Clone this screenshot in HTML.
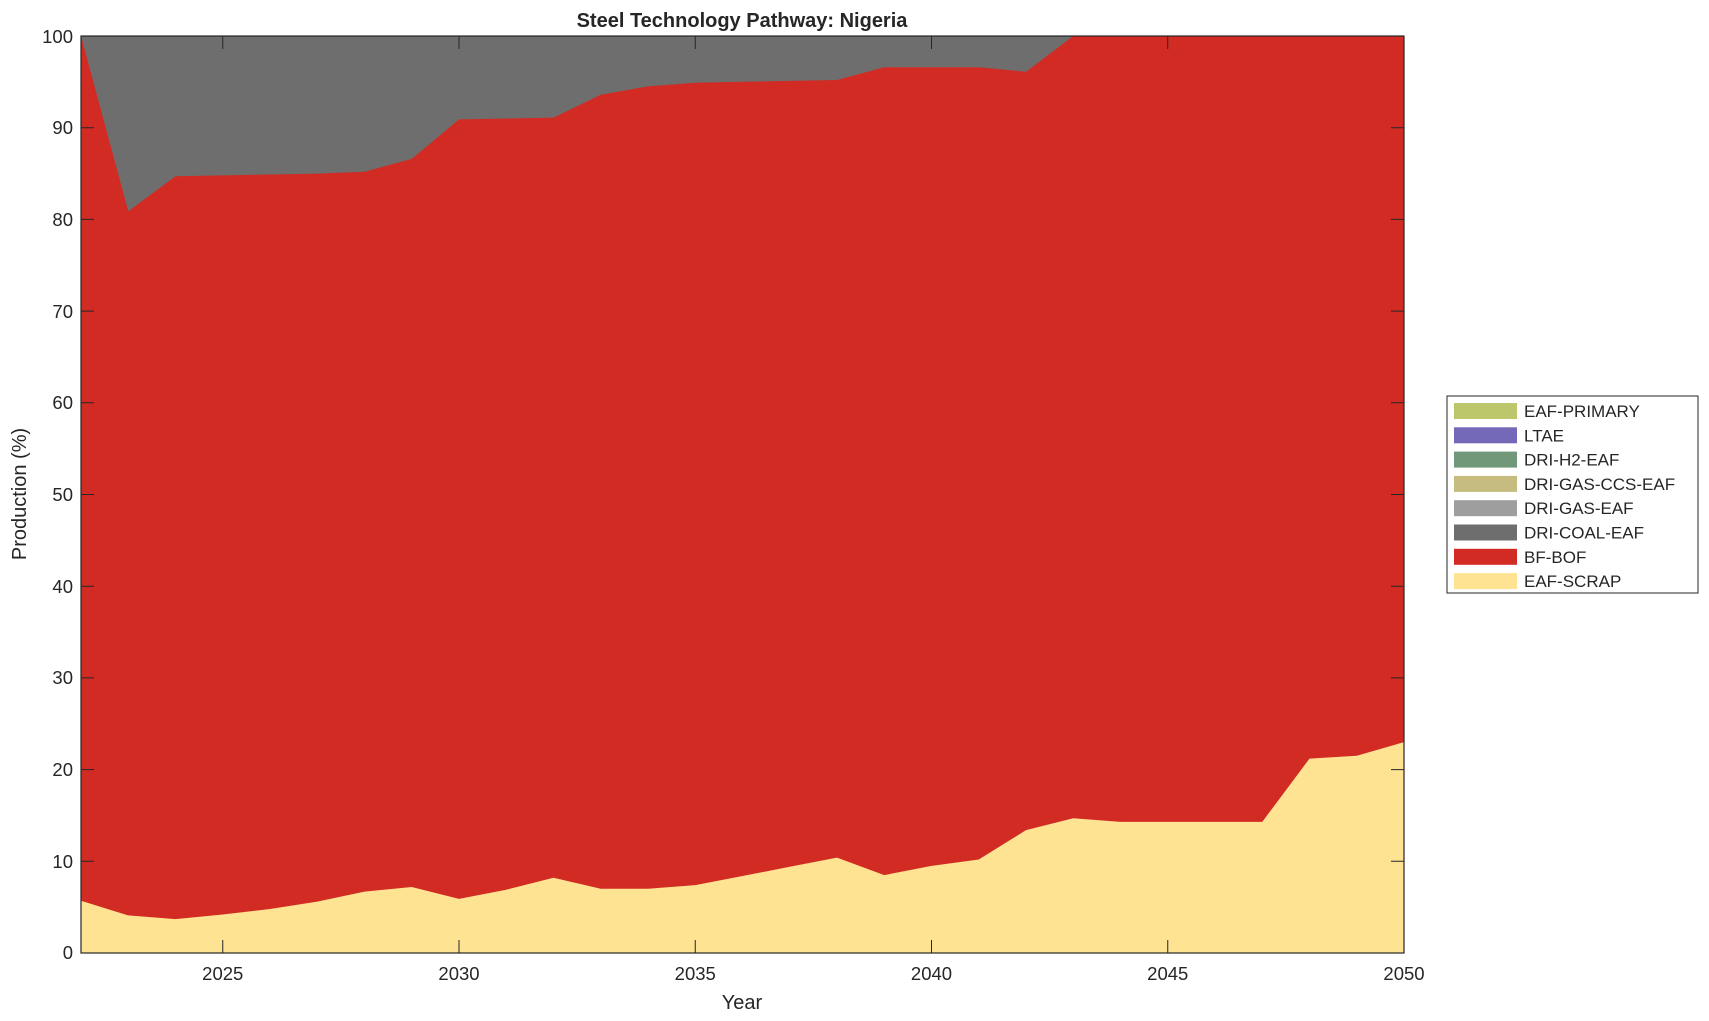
<!DOCTYPE html>
<html><head><meta charset="utf-8"><style>body{margin:0;background:#fff}svg{display:block}text{font-family:"Liberation Sans",Arial,sans-serif;fill:#262626}</style></head>
<body>
<svg width="1709" height="1021" viewBox="0 0 1709 1021" xmlns="http://www.w3.org/2000/svg">
<rect width="1709" height="1021" fill="#fff"/>
<rect x="81" y="36" width="1323" height="917" fill="#6e6e6e"/>
<path fill="#d22b24" d="M81,36 L128.25,211.2 L175.5,176.3 L222.75,175.4 L270,174.5 L317.25,173.6 L364.5,171.7 L411.75,158.9 L459,119.4 L506.25,118.5 L553.5,117.6 L600.75,94.7 L648,86.4 L695.25,82.8 L742.5,81.8 L789.75,80.9 L837,80 L884.25,67.2 L931.5,67.2 L978.75,67.2 L1026,71.8 L1073.25,36 L1404,36 L1404,953 L81,953 Z"/>
<path fill="#fee393" d="M81,900.7 L128.25,915.4 L175.5,919.1 L222.75,914.5 L270,909 L317.25,901.6 L364.5,891.6 L411.75,887 L459,898.9 L506.25,889.7 L553.5,877.8 L600.75,888.8 L648,888.8 L695.25,885.1 L742.5,876 L789.75,866.8 L837,857.6 L884.25,875.1 L931.5,865.9 L978.75,859.5 L1026,830.1 L1073.25,818.2 L1120.5,821.9 L1167.75,821.9 L1215,821.9 L1262.25,821.9 L1309.5,758.6 L1356.75,755.8 L1404,742.1 L1404,953 L81,953 Z"/>
<g stroke="#262626" stroke-width="1">
<path d="M81,953h13M81,861.3h13M81,769.6h13M81,677.9h13M81,586.2h13M81,494.5h13M81,402.8h13M81,311.1h13M81,219.4h13M81,127.7h13M81,36h13"/>
<path d="M1404,953h-13M1404,861.3h-13M1404,769.6h-13M1404,677.9h-13M1404,586.2h-13M1404,494.5h-13M1404,402.8h-13M1404,311.1h-13M1404,219.4h-13M1404,127.7h-13"/>
<path d="M222.75,953v-13M459,953v-13M695.25,953v-13M931.5,953v-13M1167.75,953v-13M222.75,36v13M459,36v13M695.25,36v13M931.5,36v13M1167.75,36v13"/>
</g>
<rect x="81" y="36" width="1323" height="917" fill="none" stroke="#262626" stroke-width="1.2"/>
<g font-size="18.5" text-anchor="end">
<text x="73" y="959">0</text><text x="73" y="868">10</text><text x="73" y="776">20</text><text x="73" y="684">30</text><text x="73" y="593">40</text><text x="73" y="501">50</text><text x="73" y="409">60</text><text x="73" y="318">70</text><text x="73" y="226">80</text><text x="73" y="134">90</text><text x="73" y="43">100</text>
</g>
<g font-size="18.5" text-anchor="middle">
<text x="222.75" y="980">2025</text><text x="459" y="980">2030</text><text x="695.25" y="980">2035</text><text x="931.5" y="980">2040</text><text x="1167.75" y="980">2045</text><text x="1404" y="980">2050</text>
</g>
<text x="742" y="27" font-size="20" font-weight="bold" text-anchor="middle" fill="#000">Steel Technology Pathway: Nigeria</text>
<text x="742" y="1009" font-size="20" text-anchor="middle">Year</text>
<text transform="translate(26,494) rotate(-90)" font-size="20" text-anchor="middle">Production (%)</text>
<rect x="1447" y="396" width="251" height="197" fill="#fff" stroke="#262626" stroke-width="1"/>
<g font-size="17">
<rect x="1454" y="403" width="63" height="16" fill="#bbc76a"/><text x="1524" y="417" fill="#000">EAF-PRIMARY</text>
<rect x="1454" y="427.3" width="63" height="16" fill="#7468b8"/><text x="1524" y="441.3" fill="#000">LTAE</text>
<rect x="1454" y="451.6" width="63" height="16" fill="#72987a"/><text x="1524" y="465.6" fill="#000">DRI-H2-EAF</text>
<rect x="1454" y="475.9" width="63" height="16" fill="#c6bc7f"/><text x="1524" y="489.9" fill="#000">DRI-GAS-CCS-EAF</text>
<rect x="1454" y="500.2" width="63" height="16" fill="#9e9e9e"/><text x="1524" y="514.2" fill="#000">DRI-GAS-EAF</text>
<rect x="1454" y="524.5" width="63" height="16" fill="#6e6e6e"/><text x="1524" y="538.5" fill="#000">DRI-COAL-EAF</text>
<rect x="1454" y="548.8" width="63" height="16" fill="#d22b24"/><text x="1524" y="562.8" fill="#000">BF-BOF</text>
<rect x="1454" y="573.1" width="63" height="16" fill="#fee393"/><text x="1524" y="587.1" fill="#000">EAF-SCRAP</text>
</g>
</svg>
</body></html>
